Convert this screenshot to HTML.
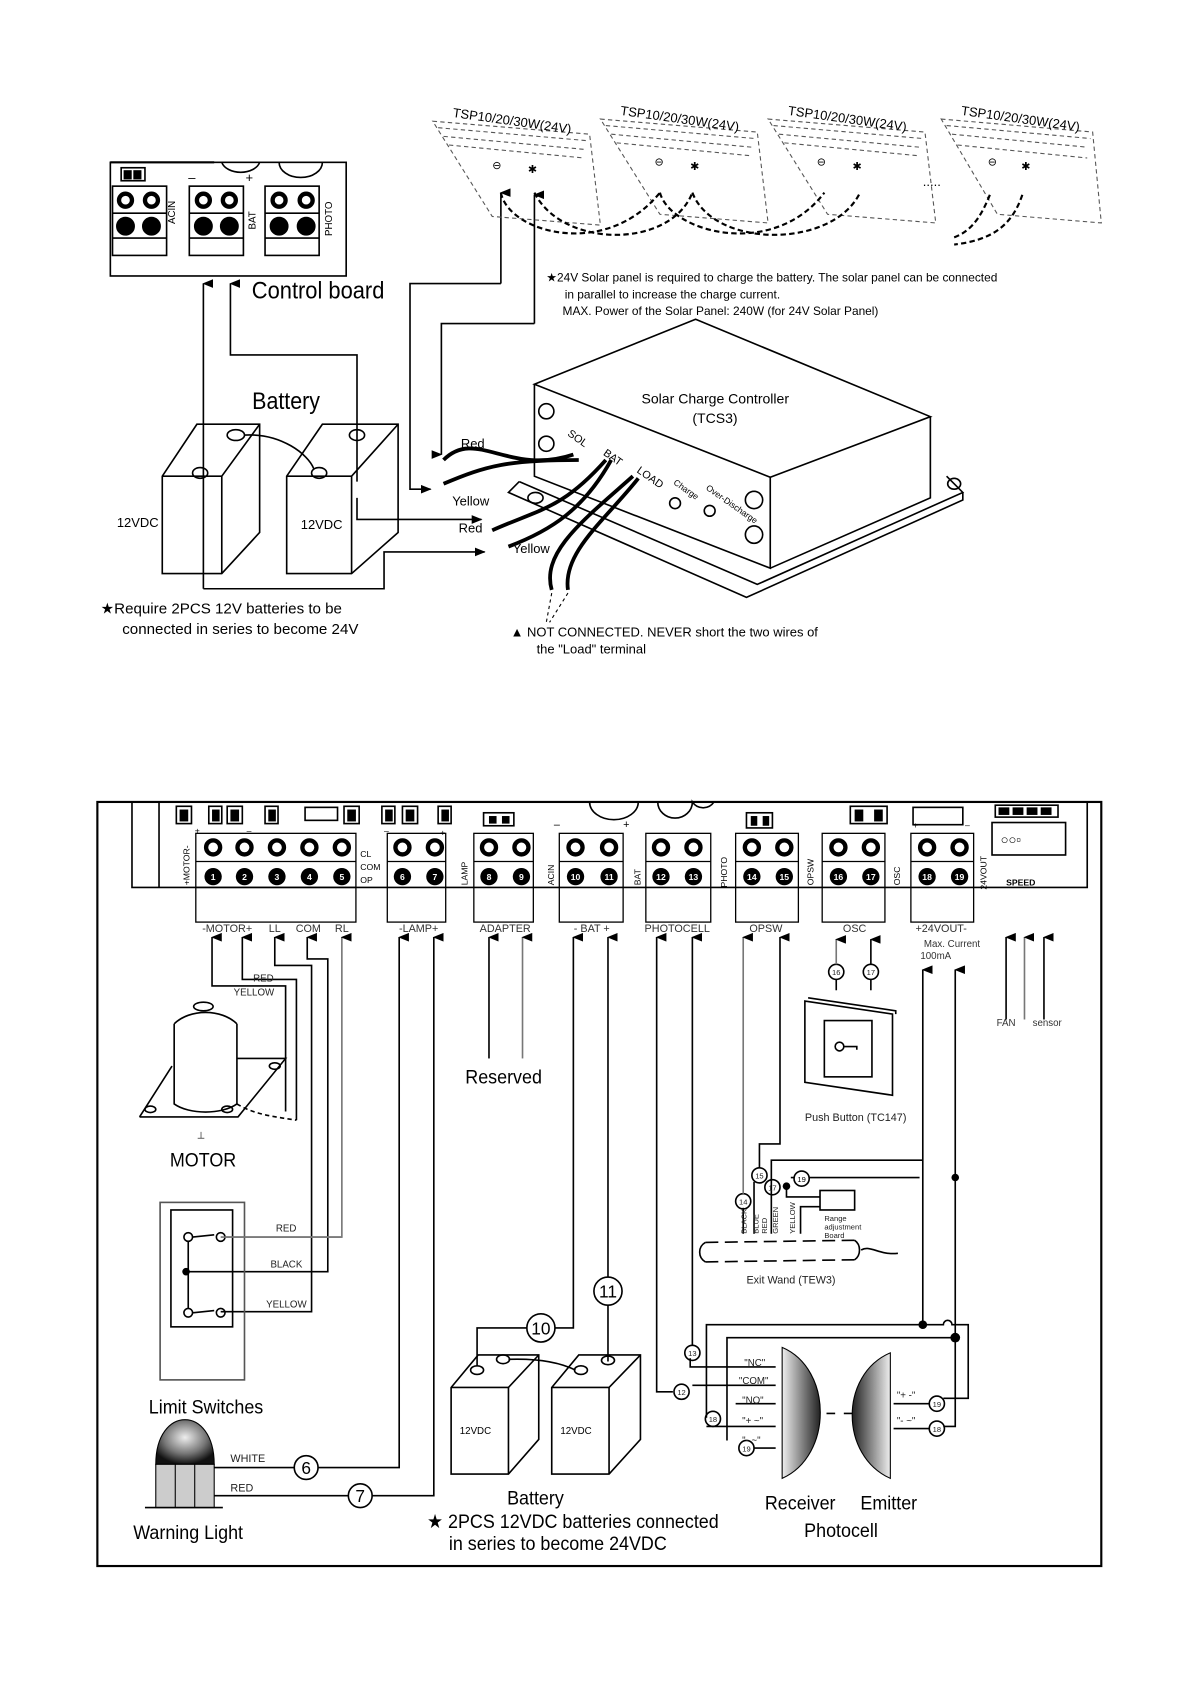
<!DOCTYPE html>
<html><head><meta charset="utf-8"><style>
html,body{margin:0;padding:0;background:#fff;}
svg{display:block;font-family:"Liberation Sans",sans-serif;}
</style></head><body>
<svg width="1190" height="1684" viewBox="0 0 1100 1556" preserveAspectRatio="none" xmlns="http://www.w3.org/2000/svg">
<defs>
<marker id="ar" markerWidth="8" markerHeight="10" refX="4" refY="1" orient="auto-start-reverse" markerUnits="userSpaceOnUse"><path d="M0,10 L4,0 L8,10 Z" fill="#000"/></marker>
<marker id="ar2" markerWidth="10" markerHeight="8" refX="9" refY="4" orient="auto" markerUnits="userSpaceOnUse"><path d="M0,0 L10,4 L0,8 Z" fill="#000"/></marker>
<radialGradient id="dome" cx="0.5" cy="0.4" r="0.6"><stop offset="0" stop-color="#eee"/><stop offset="0.6" stop-color="#777"/><stop offset="1" stop-color="#111"/></radialGradient>
<linearGradient id="rcv" x1="0" x2="1"><stop offset="0" stop-color="#eee"/><stop offset="1" stop-color="#222"/></linearGradient>
<linearGradient id="emt" x1="1" x2="0"><stop offset="0" stop-color="#eee"/><stop offset="1" stop-color="#222"/></linearGradient>
</defs>
<g fill="none" stroke="#000" stroke-width="1.5">

<!-- ========== TOP SECTION ========== -->
<rect x="102" y="150" width="218" height="105"/>
<line x1="102" y1="150" x2="198" y2="150" stroke-width="2"/>
<path d="M205,150 A18,12 0 0 0 240,150"/>
<path d="M258,150 A20,14 0 0 0 298,150"/>
<rect x="112" y="155" width="22" height="12"/>
<rect x="115" y="158" width="6" height="7" fill="#000"/><rect x="124" y="158" width="6" height="7" fill="#000"/>
<rect x="104" y="172" width="50" height="64"/><line x1="104" y1="197" x2="154" y2="197"/><line x1="104" y1="220" x2="154" y2="220"/>
<rect x="175" y="172" width="50" height="64"/><line x1="175" y1="197" x2="225" y2="197"/><line x1="175" y1="220" x2="225" y2="220"/>
<rect x="245" y="172" width="50" height="64"/><line x1="245" y1="197" x2="295" y2="197"/><line x1="245" y1="220" x2="295" y2="220"/>
<g stroke-width="4"><circle cx="116" cy="185" r="6"/><circle cx="140" cy="185" r="6"/><circle cx="188" cy="185" r="6"/><circle cx="212" cy="185" r="6"/><circle cx="258" cy="185" r="6"/><circle cx="283" cy="185" r="6"/></g>
<g fill="#000"><circle cx="116" cy="209" r="8"/><circle cx="140" cy="209" r="8"/><circle cx="188" cy="209" r="8"/><circle cx="212" cy="209" r="8"/><circle cx="258" cy="209" r="8"/><circle cx="283" cy="209" r="8"/></g>

<polyline points="188,544 188,262" marker-end="url(#ar)"/>
<polyline points="188,544 355,544 355,510 448,510" marker-end="url(#ar2)"/>
<polyline points="213,262 213,328 330,328 330,445" marker-start="url(#ar)"/>
<polyline points="330,460 330,480 445,480" marker-end="url(#ar2)" />

<polyline points="463,262 463,178" marker-end="url(#ar)"/>
<polyline points="463,262 379,262 379,452 398,452" marker-end="url(#ar2)"/>
<polyline points="494,299 494,180" marker-end="url(#ar)"/>
<polyline points="494,299 408,299 408,420" marker-end="url(#ar)"/>

<g stroke="#555" stroke-width="1" stroke-dasharray="4,3">
<path d="M400,112 L545,124 L555,208 L455,200 Z"/><path d="M405,118 L543,130 M410,126 L540,138 M415,134 L540,146"/>
<path d="M555,110 L700,122 L710,206 L610,198 Z"/><path d="M560,116 L698,128 M565,124 L695,136 M570,132 L695,144"/>
<path d="M710,110 L855,122 L865,206 L765,198 Z"/><path d="M715,116 L853,128 M720,124 L850,136 M725,132 L850,144"/>
<path d="M870,110 L1010,122 L1018,206 L922,198 Z"/><path d="M875,116 L1008,128 M880,124 L1005,136 M885,134 L1005,146"/>
</g>
<g stroke-width="2" stroke-dasharray="5,3">
<path d="M463,178 C470,215 560,240 610,178"/>
<path d="M494,178 C520,230 620,230 640,178"/>
<path d="M610,178 C620,215 715,240 762,178"/>
<path d="M640,178 C660,230 770,230 795,178"/>
<path d="M915,180 C905,205 895,215 880,220"/>
<path d="M945,180 C935,210 915,222 882,226"/>
</g>
</g>
<g font-size="12" fill="#000">
<text x="418" y="108" transform="rotate(8 418 108)">TSP10/20/30W(24V)</text>
<text x="573" y="106" transform="rotate(8 573 106)">TSP10/20/30W(24V)</text>
<text x="728" y="106" transform="rotate(8 728 106)">TSP10/20/30W(24V)</text>
<text x="888" y="106" transform="rotate(8 888 106)">TSP10/20/30W(24V)</text>
<text x="455" y="156" font-size="10">⊖</text><text x="488" y="160" font-size="10">✱</text>
<text x="605" y="153" font-size="10">⊖</text><text x="638" y="157" font-size="10">✱</text>
<text x="755" y="153" font-size="10">⊖</text><text x="788" y="157" font-size="10">✱</text>
<text x="913" y="153" font-size="10">⊖</text><text x="944" y="157" font-size="10">✱</text>
<text x="853" y="172" font-size="12">.....</text>
<text x="160" y="205" font-size="9" transform="rotate(-90 162 205)">ACIN</text>
<text x="236" y="212" font-size="9" transform="rotate(-90 236 212)">BAT</text>
<text x="307" y="218" font-size="9" transform="rotate(-90 307 218)">PHOTO</text>
<text x="174" y="168" font-size="12">–</text><text x="227" y="168" font-size="12">+</text>
<text x="233" y="276" font-size="22" transform="scale(0.92 1) translate(20 0)">Control board</text>
<text x="233" y="378" font-size="22" transform="scale(0.9 1) translate(26 0)">Battery</text>
<text x="505" y="260" font-size="11">★24V Solar panel is required to charge the battery. The solar panel can be connected</text>
<text x="522" y="276" font-size="11">in parallel to increase the charge current.</text>
<text x="520" y="291" font-size="11">MAX. Power of the Solar Panel: 240W (for 24V Solar Panel)</text>
<text x="93" y="567" font-size="14">★Require 2PCS 12V batteries to be</text>
<text x="113" y="586" font-size="14">connected in series to become 24V</text>
<text x="472" y="588" font-size="12">▲ NOT CONNECTED. NEVER short the two wires of</text>
<text x="496" y="604" font-size="12">the "Load" terminal</text>
<text x="108" y="487" font-size="12">12VDC</text>
<text x="278" y="489" font-size="12">12VDC</text>
<text x="426" y="414" font-size="12">Red</text>
<text x="418" y="467" font-size="12">Yellow</text>
<text x="424" y="492" font-size="12">Red</text>
<text x="474" y="511" font-size="12">Yellow</text>
<text x="593" y="373" font-size="13">Solar Charge Controller</text>
<text x="640" y="391" font-size="13">(TCS3)</text>
<text x="524" y="402" font-size="10" transform="rotate(35 524 402)">SOL</text>
<text x="557" y="420" font-size="10" transform="rotate(35 557 420)">BAT</text>
<text x="588" y="436" font-size="10" transform="rotate(35 588 436)">LOAD</text>
<text x="622" y="447" font-size="8" transform="rotate(35 622 447)">Charge</text>
<text x="652" y="452" font-size="8" transform="rotate(35 652 452)">Over-Discharge</text>
</g>
<g fill="none" stroke="#000" stroke-width="1.5">
<path d="M150,440 L182,392 L240,392 L240,492 L205,530 L150,530 Z"/><path d="M150,440 L205,440 L240,392 M205,440 L205,530"/>
<path d="M265,440 L298,392 L368,392 L368,492 L325,530 L265,530 Z"/><path d="M265,440 L325,440 L368,392 M325,440 L325,530"/>
<ellipse cx="218" cy="402" rx="8" ry="5"/><ellipse cx="185" cy="437" rx="7" ry="5"/>
<ellipse cx="295" cy="437" rx="7" ry="5"/><ellipse cx="330" cy="402" rx="7" ry="5"/>
<path d="M226,402 C260,400 285,420 290,433"/>
<path d="M494,355 L643,295 L860,385 L712,441 Z"/>
<path d="M494,355 L494,440 L712,525 L712,441 M712,525 L860,460 L860,385"/>
<path d="M480,445 L700,540 L890,455 L875,440"/>
<path d="M480,445 L470,455 L690,552 L890,462 L890,455"/>
<circle cx="505" cy="380" r="7"/><circle cx="505" cy="410" r="7"/>
<circle cx="697" cy="462" r="8"/><circle cx="697" cy="494" r="8"/>
<circle cx="624" cy="465" r="5"/><circle cx="656" cy="472" r="5"/>
<ellipse cx="495" cy="460" rx="7" ry="5"/><ellipse cx="882" cy="447" rx="6" ry="5"/>
</g>
<g fill="none" stroke="#000" stroke-width="3.5">
<path d="M410,425 C440,395 470,440 530,420"/>
<path d="M410,447 C450,430 470,425 535,425"/>
<path d="M455,490 C500,470 520,470 560,425"/>
<path d="M470,505 C510,490 540,470 565,425"/>
<path d="M510,545 C500,510 540,480 585,440"/>
<path d="M525,545 C520,510 560,480 590,442"/>
</g>
<g fill="none" stroke="#000" stroke-width="1" stroke-dasharray="3,3"><path d="M510,548 L505,575 M525,548 L508,575"/></g>

<!-- ========== BOTTOM SECTION ========== -->
<g fill="none" stroke="#000" stroke-width="1.5">
<rect x="90" y="741" width="928" height="706" stroke-width="2"/>
<path d="M122,741 L122,820 L1005,820 L1005,741"/>
<line x1="147" y1="741" x2="147" y2="820"/>
<rect x="917" y="760" width="68" height="30"/>
<g stroke-width="1.2">
<rect x="181" y="770" width="148" height="82"/><line x1="181" y1="796" x2="329" y2="796"/><line x1="181" y1="820" x2="329" y2="820"/>
<rect x="358" y="770" width="54" height="82"/><line x1="358" y1="796" x2="412" y2="796"/>
<rect x="438" y="770" width="55" height="82"/><line x1="438" y1="796" x2="493" y2="796"/>
<rect x="517" y="770" width="59" height="82"/><line x1="517" y1="796" x2="576" y2="796"/>
<rect x="597" y="770" width="60" height="82"/><line x1="597" y1="796" x2="657" y2="796"/>
<rect x="680" y="770" width="58" height="82"/><line x1="680" y1="796" x2="738" y2="796"/>
<rect x="760" y="770" width="58" height="82"/><line x1="760" y1="796" x2="818" y2="796"/>
<rect x="842" y="770" width="58" height="82"/><line x1="842" y1="796" x2="900" y2="796"/>
</g>
<g stroke-width="4">
<circle cx="197" cy="783" r="6.5"/><circle cx="226" cy="783" r="6.5"/><circle cx="256" cy="783" r="6.5"/><circle cx="286" cy="783" r="6.5"/><circle cx="316" cy="783" r="6.5"/>
<circle cx="372" cy="783" r="6.5"/><circle cx="402" cy="783" r="6.5"/><circle cx="452" cy="783" r="6.5"/><circle cx="482" cy="783" r="6.5"/>
<circle cx="532" cy="783" r="6.5"/><circle cx="563" cy="783" r="6.5"/><circle cx="611" cy="783" r="6.5"/><circle cx="641" cy="783" r="6.5"/>
<circle cx="695" cy="783" r="6.5"/><circle cx="725" cy="783" r="6.5"/><circle cx="775" cy="783" r="6.5"/><circle cx="805" cy="783" r="6.5"/>
<circle cx="857" cy="783" r="6.5"/><circle cx="887" cy="783" r="6.5"/>
</g>
<g stroke-width="1.5">
<rect x="163" y="745" width="14" height="16"/><rect x="193" y="745" width="12" height="16"/><rect x="210" y="745" width="14" height="16"/><rect x="245" y="745" width="12" height="16"/>
<rect x="282" y="746" width="30" height="12"/><rect x="318" y="745" width="14" height="16"/><rect x="353" y="745" width="12" height="16"/><rect x="372" y="745" width="14" height="16"/><rect x="405" y="745" width="12" height="16"/>
<rect x="447" y="751" width="28" height="12"/><rect x="690" y="751" width="24" height="14"/><rect x="786" y="745" width="34" height="16"/>
<rect x="844" y="746" width="46" height="16"/><rect x="920" y="744" width="58" height="11"/>
<path d="M545,741 A22,16 0 0 0 590,741"/><path d="M608,741 A15,14 0 0 0 640,741 A12,12 0 0 0 660,741"/>
</g>
<g fill="#000" stroke="none">
<rect x="166" y="748" width="8" height="11"/><rect x="196" y="748" width="7" height="11"/><rect x="213" y="748" width="8" height="11"/><rect x="248" y="748" width="7" height="11"/>
<rect x="321" y="748" width="8" height="11"/><rect x="356" y="748" width="7" height="11"/><rect x="375" y="748" width="8" height="11"/><rect x="408" y="748" width="7" height="11"/>
<rect x="452" y="754" width="7" height="7"/><rect x="464" y="754" width="7" height="7"/><rect x="694" y="754" width="6" height="9"/><rect x="705" y="754" width="6" height="9"/>
<rect x="790" y="748" width="8" height="11"/><rect x="808" y="748" width="8" height="11"/>
<rect x="923" y="746" width="10" height="7"/><rect x="936" y="746" width="10" height="7"/><rect x="949" y="746" width="10" height="7"/><rect x="962" y="746" width="10" height="7"/>
</g>
</g>
<g fill="#000" stroke="none">
<g>
<circle cx="197" cy="810" r="8"/><circle cx="226" cy="810" r="8"/><circle cx="256" cy="810" r="8"/><circle cx="286" cy="810" r="8"/><circle cx="316" cy="810" r="8"/>
<circle cx="372" cy="810" r="8"/><circle cx="402" cy="810" r="8"/><circle cx="452" cy="810" r="8"/><circle cx="482" cy="810" r="8"/>
<circle cx="532" cy="810" r="8"/><circle cx="563" cy="810" r="8"/><circle cx="611" cy="810" r="8"/><circle cx="641" cy="810" r="8"/>
<circle cx="695" cy="810" r="8"/><circle cx="725" cy="810" r="8"/><circle cx="775" cy="810" r="8"/><circle cx="805" cy="810" r="8"/>
<circle cx="857" cy="810" r="8"/><circle cx="887" cy="810" r="8"/>
</g>
<g fill="#fff" font-size="8" font-weight="bold" text-anchor="middle">
<text x="197" y="813">1</text><text x="226" y="813">2</text><text x="256" y="813">3</text><text x="286" y="813">4</text><text x="316" y="813">5</text>
<text x="372" y="813">6</text><text x="402" y="813">7</text><text x="452" y="813">8</text><text x="482" y="813">9</text>
<text x="532" y="813">10</text><text x="563" y="813">11</text><text x="611" y="813">12</text><text x="641" y="813">13</text>
<text x="695" y="813">14</text><text x="725" y="813">15</text><text x="775" y="813">16</text><text x="805" y="813">17</text>
<text x="857" y="813">18</text><text x="887" y="813">19</text>
</g>
<g font-size="8">
<text x="175" y="818" transform="rotate(-90 175 818)">+MOTOR-</text>
<text x="333" y="792">CL</text><text x="333" y="804">COM</text><text x="333" y="816">OP</text>
<text x="432" y="818" transform="rotate(-90 432 818)">LAMP</text>
<text x="512" y="818" transform="rotate(-90 512 818)">ACIN</text>
<text x="592" y="818" transform="rotate(-90 592 818)">BAT</text>
<text x="672" y="820" transform="rotate(-90 672 820)">PHOTO</text>
<text x="752" y="818" transform="rotate(-90 752 818)">OPSW</text>
<text x="832" y="818" transform="rotate(-90 832 818)">OSC</text>
<text x="912" y="822" transform="rotate(-90 912 822)">24VOUT</text>
<text x="930" y="818" font-weight="bold">SPEED</text>
<text x="180" y="770">+</text><text x="228" y="770">–</text><text x="407" y="772">+</text><text x="355" y="770">–</text>
<text x="512" y="765" font-size="10">–</text><text x="576" y="765" font-size="10">+</text><text x="844" y="765">+</text><text x="892" y="765">–</text>
</g>
<text x="925" y="780" font-size="12" font-weight="bold">○○▫</text>
<g font-size="10" fill="#333" text-anchor="middle">
<text x="210" y="861">-MOTOR+</text><text x="254" y="861">LL</text><text x="285" y="861">COM</text><text x="316" y="861">RL</text>
<text x="387" y="861">-LAMP+</text><text x="467" y="861">ADAPTER</text><text x="547" y="861">- BAT +</text><text x="626" y="861">PHOTOCELL</text>
<text x="708" y="861">OPSW</text><text x="790" y="861">OSC</text><text x="870" y="861">+24VOUT-</text>
<text x="880" y="875" font-size="9">Max. Current</text><text x="865" y="886" font-size="9">100mA</text>
<text x="930" y="948" font-size="9">FAN</text><text x="968" y="948" font-size="9">sensor</text>
</g>
</g>

<g fill="none" stroke="#000" stroke-width="1.5">
<polyline points="264,1027 264,911 196,911 196,866" marker-end="url(#ar)"/>
<polyline points="274,1035 274,905 224,905 224,866" marker-end="url(#ar)"/>
<polyline points="204,1212 288,1212 288,892 254,892 254,866" marker-end="url(#ar)"/>
<polyline points="172,1175 303,1175 303,886 284,886 284,866" marker-end="url(#ar)"/>
<polyline points="208,1143 316,1143 316,866" marker-end="url(#ar)" stroke="#777"/>
<polyline points="174,1356 272,1356"/><circle cx="283" cy="1356" r="11"/><polyline points="294,1356 369,1356 369,866" marker-end="url(#ar)"/>
<polyline points="170,1382 322,1382"/><circle cx="333" cy="1382" r="11"/><polyline points="344,1382 401,1382 401,866" marker-end="url(#ar)"/>
<polyline points="452,978 452,866" marker-end="url(#ar)"/>
<polyline points="483,978 483,866" marker-end="url(#ar)" stroke="#777"/>
<polyline points="441,1262 441,1227 487,1227"/><circle cx="500" cy="1227" r="13"/><polyline points="513,1227 530,1227 530,866" marker-end="url(#ar)"/>
<polyline points="562,1258 562,1206"/><circle cx="562" cy="1193" r="13"/><polyline points="562,1180 562,866" marker-end="url(#ar)"/>
<path d="M417,1282 L442,1252 L498,1252 L498,1330 L470,1362 L417,1362 Z"/><path d="M417,1282 L470,1282 L498,1252 M470,1282 L470,1362"/>
<path d="M510,1282 L535,1252 L592,1252 L592,1330 L563,1362 L510,1362 Z"/><path d="M510,1282 L563,1282 L592,1252 M563,1282 L563,1362"/>
<ellipse cx="441" cy="1266" rx="6" ry="4"/><ellipse cx="465" cy="1256" rx="6" ry="4"/><ellipse cx="537" cy="1266" rx="6" ry="4"/><ellipse cx="562" cy="1257" rx="6" ry="4"/>
<path d="M470,1256 C500,1255 520,1260 532,1266"/>
<polyline points="717,1280 640,1280"/><circle cx="630" cy="1286" r="7"/><polyline points="622,1286 607,1286 607,866" marker-end="url(#ar)"/>
<polyline points="717,1263 638,1263 638,1255"/><circle cx="640" cy="1250" r="7"/><polyline points="640,1243 640,866" marker-end="url(#ar)"/>
<polyline points="687,1140 687,1116"/><circle cx="687" cy="1110" r="7"/><polyline points="687,1103 687,866" marker-end="url(#ar)" stroke="#777"/>
<polyline points="697,1140 697,1092"/><circle cx="702" cy="1086" r="7"/><polyline points="702,1079 702,1057 721,1057 721,866" marker-end="url(#ar)"/>
<polyline points="773,915 773,905"/><circle cx="773" cy="898" r="7"/><polyline points="773,891 773,868" marker-end="url(#ar)" stroke="#777"/>
<polyline points="805,915 805,905"/><circle cx="805" cy="898" r="7"/><polyline points="805,891 805,868" marker-end="url(#ar)"/>
<path d="M744,925 L825,937 L825,1012 L744,1000 Z"/><path d="M747,922 L828,934 L828,937"/>
<rect x="762" y="943" width="44" height="52"/>
<circle cx="776" cy="967" r="4"/><path d="M780,967 L792,967 L792,970"/>
<polyline points="853,1227 853,896" marker-end="url(#ar)"/>
<polyline points="883,1240 883,896" marker-end="url(#ar)"/>
<polyline points="713,1140 713,1072 853,1072"/>
<polyline points="731,1088 850,1088 A4,4 0 0 1 858,1088 L883,1088"/>
<polyline points="727,1096 727,1106 758,1106"/>
<polyline points="740,1140 740,1115 758,1115"/>
<rect x="758" y="1100" width="32" height="18"/>
<polyline points="930,942 930,866" marker-end="url(#ar)"/>
<polyline points="947,942 947,866" marker-end="url(#ar)" stroke="#777"/>
<polyline points="965,942 965,866" marker-end="url(#ar)"/>
<g stroke-dasharray="12,6"><path d="M652,1148 L790,1146 M652,1166 L790,1164"/></g>
<path d="M652,1148 C645,1152 645,1162 652,1166 M790,1146 C796,1150 796,1160 790,1164"/>
<path d="M796,1155 C805,1150 812,1160 830,1158"/>
<polyline points="653,1310 653,1224 850,1224"/><path d="M856,1224 L872,1224 A4,4 0 0 1 880,1224 L895,1224 L895,1292 L872,1292"/>
<polyline points="672,1331 672,1236 883,1236"/>
<polyline points="883,1240 883,1318 872,1318"/>
<circle cx="659" cy="1311" r="7"/><circle cx="690" cy="1338" r="7"/>
<line x1="653" y1="1318" x2="717" y2="1318"/><line x1="680" y1="1297" x2="717" y2="1297"/><line x1="697" y1="1338" x2="717" y2="1338"/>
<circle cx="866" cy="1297" r="7"/><circle cx="866" cy="1320" r="7"/>
<line x1="826" y1="1297" x2="859" y2="1297"/><line x1="826" y1="1320" x2="859" y2="1320"/>
<path d="M748,1306 L756,1306 M764,1306 L772,1306 M780,1306 L788,1306"/>
<path d="M161,946 L161,1020 C175,1030 205,1030 219,1020 L219,946"/>
<path d="M161,946 C175,932 205,932 219,946"/>
<ellipse cx="188" cy="930" rx="9" ry="4"/>
<path d="M129,1032 L159,985 M219,978 L264,978 L220,1032 L129,1032"/>
<path d="M219,1020 C235,1030 255,1032 274,1035" stroke-dasharray="4,3"/>
<ellipse cx="139" cy="1025" rx="5" ry="3"/><ellipse cx="210" cy="1025" rx="5" ry="3"/><ellipse cx="254" cy="985" rx="5" ry="3"/>
<rect x="148" y="1111" width="78" height="164" stroke="#555"/>
<rect x="158" y="1118" width="57" height="108"/>
<circle cx="174" cy="1143" r="4"/><circle cx="204" cy="1143" r="4"/><path d="M178,1143 L198,1141"/>
<circle cx="174" cy="1213" r="4"/><circle cx="204" cy="1213" r="4"/><path d="M178,1213 L198,1211"/>
<line x1="174" y1="1147" x2="174" y2="1209"/>
<line x1="204" y1="1143" x2="316" y2="1143" stroke="#777"/>
</g>
<circle cx="172" cy="1175" r="3.5" fill="#000"/>
<circle cx="853" cy="1224" r="4" fill="#000"/><circle cx="883" cy="1236" r="4.5" fill="#000"/><circle cx="883" cy="1088" r="3.5" fill="#000"/><circle cx="727" cy="1096" r="3.5" fill="#000"/>
<path d="M723,1245 C770,1265 770,1345 723,1366 Z" fill="url(#rcv)" stroke="#000"/>
<path d="M823,1250 C776,1270 776,1345 823,1366 Z" fill="url(#emt)" stroke="#000"/>
<!-- warning light -->
<path d="M144,1353 C144,1298 198,1298 198,1353 Z" fill="url(#dome)" stroke="#000"/>
<rect x="144" y="1353" width="54" height="40" fill="#ccc" stroke="#000"/>
<line x1="162" y1="1353" x2="162" y2="1393" stroke="#000"/><line x1="180" y1="1353" x2="180" y2="1393" stroke="#000"/>
<line x1="134" y1="1393" x2="206" y2="1393" stroke="#000" stroke-width="1.5"/>

<g font-size="9" fill="#222">
<text x="234" y="907">RED</text><text x="216" y="920">YELLOW</text>
<text x="255" y="1138">RED</text><text x="250" y="1171">BLACK</text><text x="246" y="1208">YELLOW</text>
<text x="213" y="1351" font-size="10">WHITE</text><text x="213" y="1378" font-size="10">RED</text>
<text x="688" y="1262">"NC"</text><text x="683" y="1279">"COM"</text><text x="686" y="1297">"NO"</text><text x="686" y="1316">"+ ~"</text><text x="686" y="1334">"- ~"</text>
<text x="829" y="1292">"+ -"</text><text x="829" y="1316">"- ~"</text>
<text x="690" y="1140" transform="rotate(-90 690 1140)" font-size="7">BLACK</text>
<text x="701" y="1140" transform="rotate(-90 701 1140)" font-size="7">BLUE</text>
<text x="709" y="1140" transform="rotate(-90 709 1140)" font-size="7">RED</text>
<text x="719" y="1140" transform="rotate(-90 719 1140)" font-size="7">GREEN</text>
<text x="735" y="1140" transform="rotate(-90 735 1140)" font-size="7">YELLOW</text>
<text x="762" y="1128" font-size="7">Range</text><text x="762" y="1136" font-size="7">adjustment</text><text x="762" y="1144" font-size="7">Board</text>
<text x="744" y="1036" font-size="10">Push Button (TC147)</text>
<text x="690" y="1186" font-size="10">Exit Wand (TEW3)</text>
<g font-size="7" text-anchor="middle">
<text x="640" y="1253">13</text><text x="630" y="1289">12</text><text x="687" y="1113">14</text><text x="702" y="1089">15</text><text x="714" y="1100">17</text>
<text x="773" y="901">16</text><text x="805" y="901">17</text><text x="659" y="1314">18</text><text x="690" y="1341">19</text><text x="866" y="1300">19</text><text x="866" y="1323">18</text>
</g>
</g>
<circle cx="714" cy="1097" r="7" fill="none" stroke="#000" stroke-width="1.5"/><circle cx="741" cy="1089" r="7" fill="#fff" stroke="#000" stroke-width="1.5"/>
<text x="741" y="1092" font-size="7" text-anchor="middle">19</text>
<g font-size="16" text-anchor="middle" fill="#000">
<text x="283" y="1362">6</text><text x="333" y="1388">7</text><text x="500" y="1233">10</text><text x="562" y="1199">11</text>
</g>
<g font-size="18" fill="#000" transform="scale(0.92 1)">
<text x="188" y="1078" text-anchor="middle" transform="translate(16 0)">MOTOR</text>
<text x="466" y="1001" text-anchor="middle" transform="translate(40 0)">Reserved</text>
<text x="191" y="1306" text-anchor="middle" transform="translate(16 0)">Limit Switches</text>
<text x="174" y="1422" text-anchor="middle" transform="translate(15 0)">Warning Light</text>
<text x="495" y="1390" text-anchor="middle" transform="translate(43 0)">Battery</text>
<text x="395" y="1412" transform="translate(34 0)">★ 2PCS 12VDC batteries connected</text>
<text x="415" y="1432" transform="translate(36 0)">in series to become 24VDC</text>
<text x="740" y="1395" text-anchor="middle" transform="translate(64 0)">Receiver</text>
<text x="822" y="1395" text-anchor="middle" transform="translate(71 0)">Emitter</text>
<text x="778" y="1420" text-anchor="middle" transform="translate(67 0)">Photocell</text>
</g>
<g font-size="9"><text x="425" y="1325">12VDC</text><text x="518" y="1325">12VDC</text><text x="182" y="1052">⊥</text></g>
</svg>
</body></html>
